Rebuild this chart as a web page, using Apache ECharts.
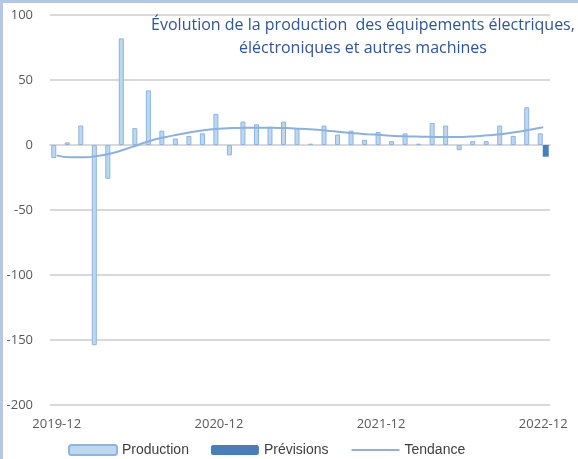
<!doctype html>
<html lang="fr">
<head>
    <meta charset="UTF-8">
    <script type="text/javascript" src="https://cdn.jsdelivr.net/npm/echarts@6/dist/echarts.min.js"></script>
    <title>Production équipements électriques</title>
    <style>
        body { margin: 0; background: #fff; }
    </style>
</head>
<body>
    <div id="main" style="width: 578px;height:459px;"></div>
</body>
<script type="text/javascript">
    // mois 2019-12 .. 2022-12
    var months = [];
    for (var y = 2019; y <= 2022; y++) {
        for (var m = 1; m <= 12; m++) {
            if (y === 2019 && m < 12) continue;
            months.push(y + '-' + (m < 10 ? '0' + m : m));
        }
    }

    var production = [-10, 2, 15, -154, -26, 82, 13, 42, 11, 5, 7, 9,
        24, -8, 18, 16, 14, 18, 13, 1, 15, 8, 11, 4,
        10, 3, 9, 1, 17, 15, -4, 3, 3, 15, 7, 29, 9];
    var previsions = [null, null, null, null, null, null, null, null, null, null, null, null,
        null, null, null, null, null, null, null, null, null, null, null, null,
        null, null, null, null, null, null, null, null, null, null, null, null, -9];
    var tendance = [-8, -9.5, -9.5, -8.5, -6.5, -3.5, 0, 3.5, 6, 8, 10, 11.5,
        12.5, 13, 13.3, 13.3, 13.2, 13, 12.5, 12, 11, 10, 9, 8.3,
        7.7, 7, 6.6, 6.4, 6.2, 6.1, 6.2, 6.8, 7.5, 8.5, 10, 11.8, 13.6];

    var myChart = echarts.init(document.getElementById('main'));
    myChart.setOption({
        animation: false,
        title: {
            text: 'Évolution de la production  des équipements électriques,\néléctroniques et autres machines',
            left: 358,
            top: 9,
            textAlign: 'center',
            textStyle: {
                color: '#2f5597',
                fontFamily: 'Open Sans',
                fontWeight: 'normal',
                fontSize: 16,
                lineHeight: 23
            }
        },
        legend: {
            bottom: -3,
            left: 63,
            itemWidth: 48,
            itemHeight: 10,
            itemGap: 22,
            textStyle: { color: '#404040', fontSize: 14, fontFamily: 'Liberation Sans' },
            data: ['Production', 'Prévisions', 'Tendance']
        },
        grid: { left: 50, right: 28, top: 15, bottom: 54 },
        xAxis: [
            {
                type: 'category',
                data: months,
                position: 'bottom',
                axisLine: { show: false, onZero: false },
                axisTick: { show: false },
                axisLabel: {
                    interval: 11,
                    color: '#595959',
                    fontSize: 13,
                    fontFamily: 'Open Sans',
                    margin: 13
                }
            },
            {
                type: 'category',
                data: months,
                position: 'top',
                axisLine: { onZero: true, lineStyle: { color: '#d9d9d9', width: 2 } },
                axisTick: { interval: 11, length: 5, lineStyle: { color: '#d9d9d9', width: 2 } },
                axisLabel: { show: false }
            }
        ],
        yAxis: {
            type: 'value',
            min: -200,
            max: 100,
            interval: 50,
            axisLine: { show: false },
            axisTick: { show: false },
            axisLabel: { color: '#595959', fontSize: 13, fontFamily: 'Open Sans', margin: 17 },
            splitLine: { lineStyle: { color: '#d9d9d9', width: 2 } }
        },
        series: [
            {
                name: 'Production',
                type: 'bar',
                data: production,
                barWidth: 5,
                barGap: '0%',
                itemStyle: { color: '#bdd7ee', borderColor: '#8eb4e3', borderWidth: 1 }
            },
            {
                name: 'Prévisions',
                type: 'bar',
                data: previsions,
                barWidth: 6,
                itemStyle: { color: '#4a7ebb' }
            },
            {
                name: 'Tendance',
                type: 'line',
                data: tendance,
                smooth: true,
                symbol: 'none',
                lineStyle: { color: '#8eb0dd', width: 2 },
                itemStyle: { color: '#8eb0dd', opacity: 0 }
            }
        ],
        graphic: [
            { type: 'rect', left: 0, top: 0, shape: { width: 578, height: 3 }, style: { fill: '#b4c7e7' } },
            { type: 'rect', left: 0, top: 0, shape: { width: 3, height: 459 }, style: { fill: '#b4c7e7' } }
        ]
    });
</script>
</html>
